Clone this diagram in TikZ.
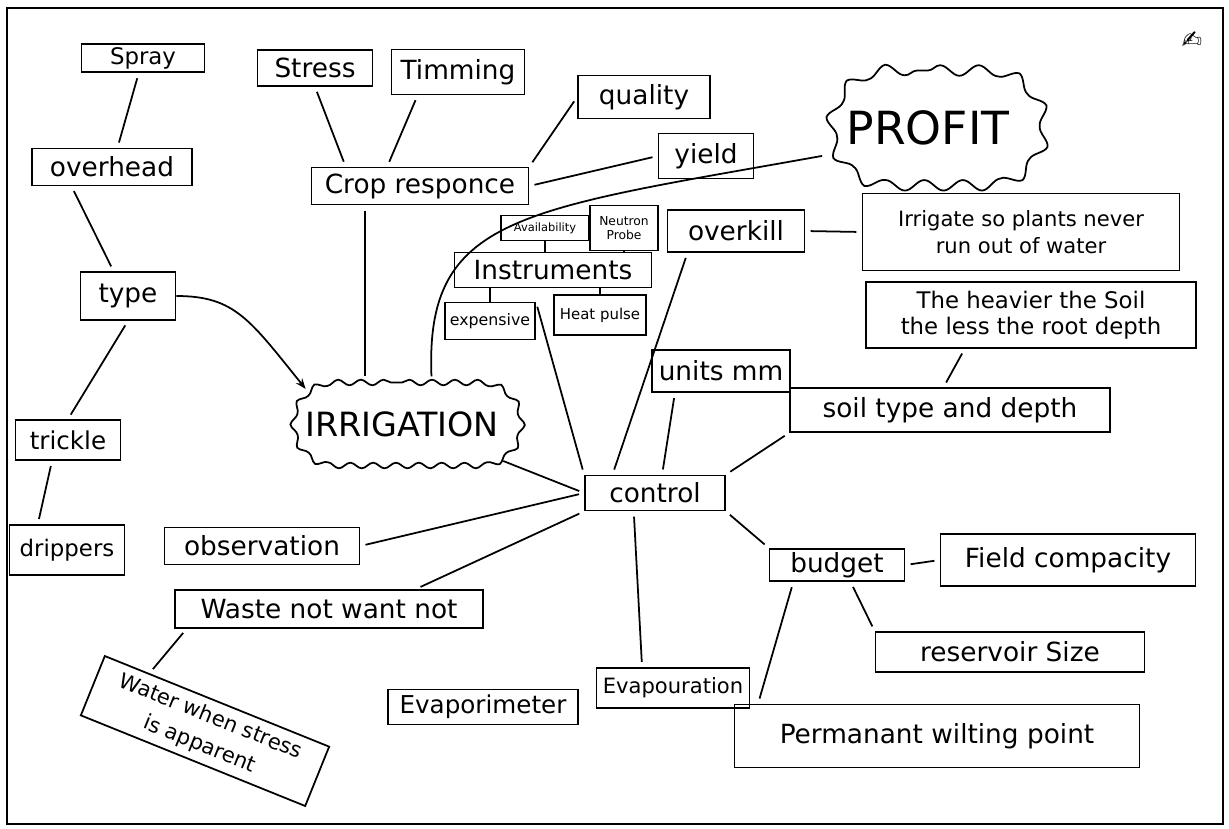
\documentclass[tikz,border=0pt]{standalone}
\usepackage{fontspec}
\setmainfont{DejaVu Sans}
\usetikzlibrary{arrows.meta,calc,decorations.pathmorphing,shapes.misc}

\begin{document}
\begin{tikzpicture}[x=0.02cm,y=0.02cm,
  box/.style={draw, line width=1pt, inner sep=2pt, align=center, font=\fontsize{15}{17}\selectfont},
  blob/.style={draw, line width=1pt, rounded rectangle, inner sep=2pt,
    decorate, decoration={snake, segment length=13pt, amplitude=1.6pt}},
  link/.style={line width=1pt, shorten <=3pt, shorten >=3pt},
  tie/.style={line width=1pt}]
  \useasboundingbox (0,0) rectangle (1229,-828);
  \draw[line width=1.2pt] (7,-8) rectangle (1223,-824);
  \node (pen) at (1192,-40) {\fontsize{14}{14}\selectfont ✍};

  % centre of the map
  \node[blob, minimum width=4.7cm, minimum height=1.66cm, font=\fontsize{19}{21}\selectfont] (irrig) at (402,-424) {IRRIGATION};
  \node[blob, minimum width=4.4cm, minimum height=2.3cm, font=\fontsize{26}{28}\selectfont,
    decoration={snake, segment length=22pt, amplitude=3pt}] (profit) at (928,-128) {PROFIT};
  \node[box, minimum width=2.8cm, minimum height=0.7cm] (control) at (655,-493) {control};

  % type branch
  \node[box, minimum width=2.46cm, minimum height=0.54cm, font=\fontsize{13}{14}\selectfont] (spray) at (143,-58) {Spray};
  \node[box, minimum width=3.2cm, minimum height=0.74cm] (overhead) at (112,-167) {overhead};
  \node[box, minimum width=1.9cm, minimum height=0.96cm] (type) at (128,-296) {type};
  \node[box, minimum width=2.1cm, minimum height=0.8cm, font=\fontsize{14}{16}\selectfont] (trickle) at (68,-440) {trickle};
  \node[box, minimum width=2.3cm, minimum height=1.0cm, font=\fontsize{13}{15}\selectfont] (drippers) at (67,-550) {drippers};

  % crop branch
  \node[box, minimum width=2.3cm, minimum height=0.72cm] (stress) at (315,-68) {Stress};
  \node[box, minimum width=2.66cm, minimum height=0.9cm] (timming) at (458,-72) {Timming};
  \node[box, minimum width=2.64cm, minimum height=0.86cm] (quality) at (644,-97) {quality};
  \node[box, minimum width=4.34cm, minimum height=0.74cm] (crop) at (420,-186) {Crop responce};
  \node[box, minimum width=1.9cm, minimum height=0.9cm] (yield) at (706,-156) {yield};

  % instruments
  \node[box, minimum width=1.76cm, minimum height=0.5cm, font=\fontsize{6.5}{7}\selectfont] (avail) at (545,-228) {Availability};
  \node[box, minimum width=1.36cm, minimum height=0.9cm, font=\fontsize{7}{8}\selectfont] (neutron) at (624,-228) {Neutron\\Probe};
  \node[box, minimum width=3.94cm, minimum height=0.7cm] (instr) at (553,-270) {Instruments};
  \node[box, minimum width=1.8cm, minimum height=0.74cm, font=\fontsize{9}{10}\selectfont] (expensive) at (490,-321) {expensive};
  \node[box, minimum width=1.84cm, minimum height=0.8cm, font=\fontsize{8.5}{10}\selectfont] (heat) at (600,-315) {Heat pulse};

  % right side
  \node[box, minimum width=2.74cm, minimum height=0.84cm] (overkill) at (736,-231) {overkill};
  \node[box, minimum width=6.34cm, minimum height=1.54cm, font=\fontsize{12}{15}\selectfont] (never) at (1021,-232) {Irrigate so plants never\\run out of water};
  \node[box, minimum width=6.6cm, minimum height=1.32cm, font=\fontsize{13}{15}\selectfont] (heavier) at (1031,-315) {The heavier the Soil\\the less the root depth};
  \node[box, minimum width=2.76cm, minimum height=0.84cm] (units) at (721,-371) {units mm};
  \node[box, minimum width=6.4cm, minimum height=0.88cm] (soil) at (950,-410) {soil type and depth};

  % budget
  \node[box, minimum width=2.7cm, minimum height=0.6cm] (budget) at (837,-565) {budget};
  \node[box, minimum width=5.1cm, minimum height=1.04cm] (field) at (1068,-560) {Field compacity};
  \node[box, minimum width=5.38cm, minimum height=0.8cm] (reservoir) at (1010,-652) {reservoir Size};
  \node[box, minimum width=8.1cm, minimum height=1.26cm] (pwp) at (937,-736) {Permanant wilting point};

  % lower left
  \node[box, minimum width=3.9cm, minimum height=0.74cm] (observation) at (262,-546) {observation};
  \node[box, minimum width=6.16cm, minimum height=0.76cm] (waste) at (329,-609) {Waste not want not};
  \node[box, minimum width=4.84cm, minimum height=1.28cm, rotate=-22, font=\fontsize{12}{17}\selectfont] (stressw) at (205,-731) {Water when stress\\is apparent};
  \node[box, minimum width=3.8cm, minimum height=0.7cm, font=\fontsize{14}{16}\selectfont] (evapm) at (483,-707) {Evaporimeter};
  \node[box, minimum width=3.06cm, minimum height=0.8cm, font=\fontsize{12}{14}\selectfont] (evap) at (673,-688) {Evapouration};

  % connectors
  \draw[link] (spray) -- (overhead);
  \draw[link] ($(overhead.south west)!0.25!(overhead.south east)$) -- ($(type.north west)!0.35!(type.north east)$);
  \draw[link] (type.south) -- (trickle.north);
  \draw[link] ($(trickle.south west)!0.35!(trickle.south east)$) -- ($(drippers.north west)!0.25!(drippers.north east)$);
  \draw[line width=1pt, -{Stealth[length=6pt]}] (type.east) .. controls (235,-296) and (250,-320) .. (irrig.160);

  \draw[link] (stress.south) -- ($(crop.north west)!0.16!(crop.north east)$);
  \draw[link] ($(timming.south west)!0.2!(timming.south east)$) -- ($(crop.north west)!0.35!(crop.north east)$);
  \draw[link] (quality.west) -- (crop.north east);
  \draw[link] (crop.east) -- (yield.west);
  \coordinate (cropfoot) at ($(crop.south west)!0.25!(crop.south east)$);
  \draw[link] (cropfoot) -- (cropfoot |- irrig.north);
  \draw[link] (profit.195) .. controls (520,-210) and (425,-215) .. (irrig.55);

  \draw[tie] (avail.south) -- (avail.south |- instr.north);
  \draw[tie] (neutron.south) -- (neutron.south |- instr.north);
  \draw[tie] (expensive.north) -- (expensive.north |- instr.south);
  \draw[tie] (heat.north) -- (heat.north |- instr.south);
  \draw[link] (expensive.north east) -- (control.north west);
  \draw[link] ($(overkill.south west)!0.15!(overkill.south east)$) -- ($(control.north west)!0.2!(control.north east)$);
  \draw[link] (overkill.east) -- (never.west);
  \draw[link] ($(heavier.south west)!0.3!(heavier.south east)$) -- ($(soil.north west)!0.48!(soil.north east)$);
  \draw[link] ($(units.south west)!0.17!(units.south east)$) -- ($(control.north west)!0.55!(control.north east)$);
  \draw[link] (soil.south west) -- (control.north east);

  \draw[link] (irrig.-20) -- (control.west);
  \draw[link] (control.west) -- (observation.east);
  \draw[link] (control.south west) -- ($(waste.north west)!0.78!(waste.north east)$);
  \draw[link] ($(waste.south west)!0.04!(waste.south east)$) -- ($(stressw.north west)!0.2!(stressw.north east)$);
  \draw[link] ($(control.south west)!0.35!(control.south east)$) -- ($(evap.north west)!0.3!(evap.north east)$);
  \draw[link] (control.south east) -- (budget.north west);
  \draw[link] (budget.east) -- (field.west);
  \draw[link] ($(budget.south west)!0.6!(budget.south east)$) -- (reservoir.north west);
  \draw[link] ($(budget.south west)!0.18!(budget.south east)$) -- ($(pwp.north west)!0.06!(pwp.north east)$);
\end{tikzpicture}
\end{document}
